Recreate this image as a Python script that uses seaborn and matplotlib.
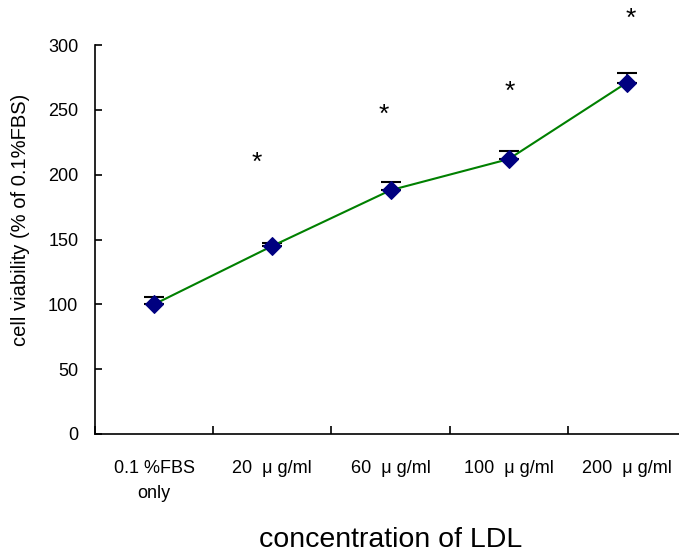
import numpy as np
import pandas as pd
import matplotlib
matplotlib.use("Agg")
import matplotlib.pyplot as plt
import seaborn as sns

categories = ["0.1 %FBS\nonly", "20  \u03bc g/ml", "60  \u03bc g/ml", "100  \u03bc g/ml", "200  \u03bc g/ml"]
viability = [100, 145, 188, 212, 271]
err_upper = [6, 2.5, 6, 6, 7.5]
star_x = [0.87, 1.94, 3.01, 4.03]
star_y = [209, 246, 264, 320]
yticks = [0, 50, 100, 150, 200, 250, 300]

sns.set_theme(style="white")
plt.rcParams["font.family"] = ["Liberation Sans", "DejaVu Sans"]
plt.rcParams["text.color"] = "black"
plt.rcParams["xtick.color"] = "black"
plt.rcParams["ytick.color"] = "black"
plt.rcParams["axes.labelcolor"] = "black"

df = pd.DataFrame({"idx": np.arange(len(categories)), "v": viability})

fig = plt.figure(figsize=(6.79, 5.56), dpi=100)
ax = fig.add_axes([95 / 679, 122 / 556, 591 / 679, 389 / 556])

ax.errorbar(df["idx"], df["v"], yerr=[np.zeros(len(err_upper)), err_upper],
            fmt="none", ecolor="black", elinewidth=1.2, capsize=7, capthick=1.5, zorder=2)
sns.lineplot(data=df, x="idx", y="v", ax=ax, color="#008000", linewidth=1.5,
             marker="D", markersize=9, markerfacecolor="#000080",
             markeredgecolor="#000080", zorder=3)

for sx, sy in zip(star_x, star_y):
    ax.text(sx, sy, "*", ha="center", va="center", fontsize=19, color="black", clip_on=False)

ax.set_xlim(-0.5, len(categories) - 0.5)
ax.set_ylim(0, 300)
ax.set_yticks(yticks)
ax.set_yticklabels([str(t) for t in yticks], fontsize=13)
ax.tick_params(axis="y", direction="in", length=5, width=1.2, pad=12, left=True)

ax.set_xticks(np.arange(len(categories) + 1) - 0.5)
ax.set_xticklabels([])
ax.set_xticks(np.arange(len(categories)), minor=True)
ax.set_xticklabels(categories, minor=True, fontsize=13, linespacing=1.6)
ax.tick_params(axis="x", which="major", direction="in", length=6, width=1.2, bottom=True)
ax.tick_params(axis="x", which="minor", length=0, pad=19)

for side in ["top", "right"]:
    ax.spines[side].set_visible(False)
for side in ["left", "bottom"]:
    ax.spines[side].set_color("black")
    ax.spines[side].set_linewidth(1.2)

ax.set_xlabel("concentration of LDL", fontsize=20.5)
ax.xaxis.set_label_coords(0.5, -0.24)
ax.set_ylabel("cell viability (% of 0.1%FBS)", fontsize=14.5)
ax.yaxis.set_label_coords(-0.11, 0.55)

fig.savefig("out.png", dpi=100)
